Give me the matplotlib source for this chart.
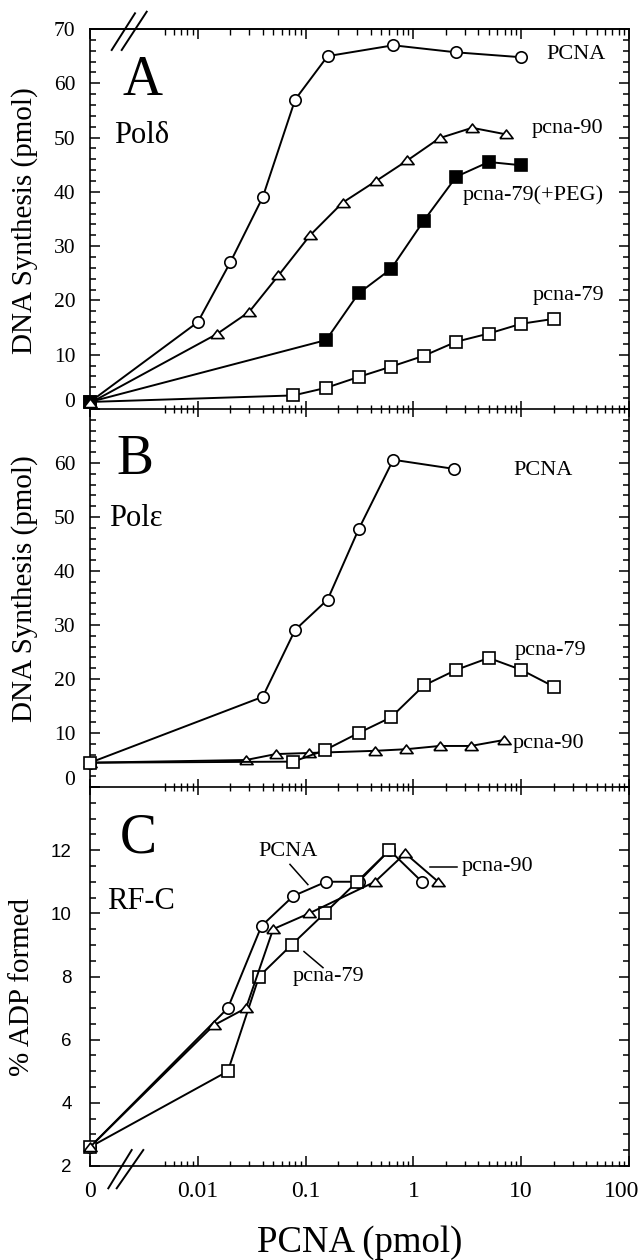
import matplotlib.pyplot as plt
from matplotlib.lines import Line2D
from matplotlib.ticker import FixedLocator, MultipleLocator, FuncFormatter, NullFormatter

plt.rcParams['font.family'] = ['Liberation Serif', 'DejaVu Serif']

ZERO = 1e-3  # x = 0 is drawn on the left spine of the broken log axis

# panel A: Pol delta
a_pcna_x = [0, 0.01, 0.02, 0.04, 0.08, 0.16, 0.65, 2.5, 10]
a_pcna_y = [1.3, 16, 27, 39, 57, 65, 67, 65.7, 64.8]
a_p90_x = [0, 0.015, 0.03, 0.056, 0.11, 0.22, 0.45, 0.88, 1.75, 3.5, 7.2]
a_p90_y = [1.1, 13.8, 17.9, 24.6, 32, 38, 42, 45.8, 49.9, 51.8, 50.6]
a_peg_x = [0, 0.155, 0.31, 0.62, 1.25, 2.5, 5, 10]
a_peg_y = [1.3, 12.7, 21.3, 25.8, 34.7, 42.8, 45.5, 44.9]
a_p79_x = [0, 0.077, 0.155, 0.31, 0.62, 1.25, 2.5, 5, 10, 20]
a_p79_y = [1.3, 2.5, 3.9, 5.9, 7.8, 9.8, 12.4, 13.9, 15.7, 16.6]

# panel B: Pol epsilon
b_pcna_x = [0, 0.04, 0.08, 0.16, 0.31, 0.65, 2.4]
b_pcna_y = [4.5, 16.7, 29.1, 34.7, 47.7, 60.6, 58.9]
b_p79_x = [0, 0.077, 0.15, 0.31, 0.62, 1.25, 2.5, 5, 10, 20]
b_p79_y = [4.5, 4.7, 6.8, 10.0, 12.9, 18.8, 21.7, 23.9, 21.7, 18.6]
b_p90_x = [0, 0.028, 0.053, 0.108, 0.44, 0.86, 1.75, 3.4, 6.9]
b_p90_y = [4.5, 5.0, 6.1, 6.3, 6.7, 7.0, 7.6, 7.6, 8.7]

# panel C: RF-C
c_pcna_x = [0, 0.019, 0.039, 0.077, 0.155, 0.31, 0.6, 1.2]
c_pcna_y = [2.6, 7.0, 9.6, 10.55, 11.0, 11.0, 12.0, 11.0]
c_p79_x = [0, 0.019, 0.037, 0.074, 0.15, 0.3, 0.6]
c_p79_y = [2.6, 5.0, 8.0, 9.0, 10.0, 11.0, 12.0]
c_p90_x = [0, 0.014, 0.028, 0.05, 0.108, 0.44, 0.84, 1.7]
c_p90_y = [2.6, 6.45, 7.0, 9.5, 10.0, 11.0, 11.9, 11.0]

x_major = [ZERO, 0.01, 0.1, 1, 10, 100]
x_labels = ['0', '0.01', '0.1', '1', '10', '100']
x_minor = [k * 1e-3 for k in range(5, 10)] + \
          [k * 10.0 ** d for d in (-2, -1, 0, 1) for k in range(2, 10)]

W_PX, H_PX = 643, 1260
fig = plt.figure(figsize=(W_PX / 100, H_PX / 100), dpi=100)


def box(top, bot):
    return [90 / W_PX, 1 - bot / H_PX, 539 / W_PX, (bot - top) / H_PX]


axA = fig.add_axes(box(29, 409))
axB = fig.add_axes(box(409, 787))
axC = fig.add_axes(box(787, 1166))

# flat triangle like the original plotting program
TRI = [(-1, -0.62), (1, -0.62), (0, 0.68), (-1, -0.62)]
SIZES = {'o': 8.2, 's': 8.3}


def draw(ax, x, y, marker, filled=False, z=3):
    xs = [ZERO if v == 0 else v for v in x]
    m = TRI if marker == '^' else marker
    ms = 9.5 if marker == '^' else SIZES[marker]
    ax.plot(xs, y, '-', color='black', lw=1.4, marker=m, ms=ms,
            mfc='black' if filled else 'white', mec='black', mew=1.2,
            zorder=z, clip_on=False)


def setup_x(ax, direction, length):
    ax.set_xscale('log')
    ax.set_xlim(ZERO, 100)
    ax.xaxis.set_major_locator(FixedLocator(x_major))
    ax.xaxis.set_minor_locator(FixedLocator(x_minor))
    ax.xaxis.set_minor_formatter(NullFormatter())
    ax.tick_params(axis='x', which='major', direction=direction, length=length[0], width=1.1)
    ax.tick_params(axis='x', which='minor', direction=direction, length=length[1], width=1.0)


for ax in (axA, axB, axC):
    ax.set_facecolor('none')
    for s in ax.spines.values():
        s.set_linewidth(1.2)
    ax.tick_params(axis='y', which='both', direction='in', left=True, right=True, width=1.1)
    ax.tick_params(axis='y', which='major', length=7)
    ax.tick_params(axis='y', which='minor', length=4)

# A and B: crossing ticks on the baseline, no labels
for ax in (axA, axB):
    setup_x(ax, 'inout', (11, 6))
    ax.tick_params(axis='x', which='both', top=False, labelbottom=False)
    ax.set_ylim(0, 70)
    ax.yaxis.set_major_locator(MultipleLocator(10))
    ax.yaxis.set_minor_locator(MultipleLocator(2))
    ax.tick_params(axis='y', labelsize=15.5, pad=10.5)
    ax.annotate('0', xy=(0, 0), xycoords=ax.get_yaxis_transform(), xytext=(-10.5, 5),
                textcoords='offset points', ha='right', va='center', fontsize=15.5)
    ax.set_ylabel('DNA Synthesis (pmol)', fontsize=21, va='center')

axA.yaxis.set_major_formatter(FuncFormatter(lambda v, p: '' if v == 0 else f'{v:.0f}'))
axB.yaxis.set_major_formatter(FuncFormatter(lambda v, p: '' if v in (0, 70) else f'{v:.0f}'))
axB.spines['top'].set_visible(False)
axA.yaxis.set_label_coords(-0.121, 0.497)
axB.yaxis.set_label_coords(-0.122, 0.524)

# top ticks of A point inward
topA = axA.secondary_xaxis('top')
topA.xaxis.set_major_locator(FixedLocator(x_major))
topA.xaxis.set_minor_locator(FixedLocator(x_minor))
topA.xaxis.set_major_formatter(NullFormatter())
topA.xaxis.set_minor_formatter(NullFormatter())
topA.tick_params(which='major', direction='in', length=7, width=1.1)
topA.tick_params(which='minor', direction='in', length=4, width=1.0)
topA.spines['top'].set_linewidth(1.2)

# C
setup_x(axC, 'in', (7, 3.5))
axC.tick_params(axis='x', top=False, which='both')
# last label is pulled in a little so it stays on the page
axC.xaxis.set_major_formatter(FuncFormatter(
    lambda v, p: x_labels[x_major.index(v)] if v in x_major[:-1] else ''))
axC.annotate(x_labels[-1], xy=(x_major[-1], 0), xycoords=axC.get_xaxis_transform(),
             xytext=(-5, -11), textcoords='offset points', ha='center', va='top', fontsize=17)
axC.tick_params(axis='x', labelsize=17, pad=11)
axC.spines['top'].set_visible(False)
axC.set_ylim(2, 14)
axC.yaxis.set_major_locator(MultipleLocator(2))
axC.yaxis.set_minor_locator(MultipleLocator(0.5))
axC.yaxis.set_major_formatter(FuncFormatter(lambda v, p: '' if v >= 14 else f'{v:.0f}'))
axC.tick_params(axis='y', labelsize=13.5, pad=13, labelfontfamily='Liberation Sans')
axC.set_ylabel('% ADP formed', fontsize=21, va='center')
axC.yaxis.set_label_coords(-0.126, 0.472)
axC.set_xlabel('PCNA (pmol)', fontsize=26.5, va='center')
axC.xaxis.set_label_coords(0.5, -0.203)

# series
draw(axA, a_pcna_x, a_pcna_y, 'o')
draw(axA, a_p79_x, a_p79_y, 's')
draw(axA, a_peg_x, a_peg_y, 's', filled=True)
draw(axA, a_p90_x, a_p90_y, '^', z=4)

draw(axB, b_pcna_x, b_pcna_y, 'o')
draw(axB, b_p90_x, b_p90_y, '^')
draw(axB, b_p79_x, b_p79_y, 's', z=4)

draw(axC, c_pcna_x, c_pcna_y, 'o')
draw(axC, c_p79_x, c_p79_y, 's')
draw(axC, c_p90_x, c_p90_y, '^', z=4)

# panel titles
for ax, letter, name, lx, ly, nx, ny in [
        (axA, 'A', 'Polδ', 0.098, 0.863, 0.096, 0.721),
        (axB, 'B', 'Polε', 0.083, 0.865, 0.085, 0.709),
        (axC, 'C', 'RF-C', 0.089, 0.863, 0.095, 0.697)]:
    ax.text(lx, ly, letter, transform=ax.transAxes, fontsize=40, ha='center', va='center')
    ax.text(nx, ny, name, transform=ax.transAxes, fontsize=22, ha='center', va='center')

# series labels
lab = dict(fontsize=16, ha='left', va='center')
axA.text(17.3, 65.3, 'PCNA', **lab)
axA.text(12.6, 51.6, 'pcna-90', **lab)
axA.text(2.88, 39.4, 'pcna-79(+PEG)', **lab)
axA.text(12.9, 20.9, 'pcna-79', **lab)

axB.text(8.4, 58.7, 'PCNA', **lab)
axB.text(8.75, 25.3, 'pcna-79', **lab)
axB.text(8.4, 8.0, 'pcna-90', **lab)

axC.text(0.0362, 11.96, 'PCNA', **lab)
axC.plot([0.0716, 0.105], [11.55, 10.91], color='black', lw=1.1)
axC.text(0.0764, 7.99, 'pcna-79', **lab)
axC.plot([0.0966, 0.145], [8.79, 8.28], color='black', lw=1.1)
axC.text(2.82, 11.48, 'pcna-90', **lab)
axC.plot([1.43, 2.53], [11.48, 11.48], color='black', lw=1.1)


# axis break marks
def px_line(x0, y0, x1, y1):
    fig.add_artist(Line2D([x0 / W_PX, x1 / W_PX], [1 - y0 / H_PX, 1 - y1 / H_PX],
                          transform=fig.transFigure, color='black', lw=1.4))


px_line(111.7, 50, 135, 13.3)
px_line(121.7, 50, 146.7, 11.7)
px_line(108.3, 1188.3, 131.7, 1150)
px_line(116.7, 1188.3, 143.3, 1150)

fig.savefig('out.png', dpi=100)
